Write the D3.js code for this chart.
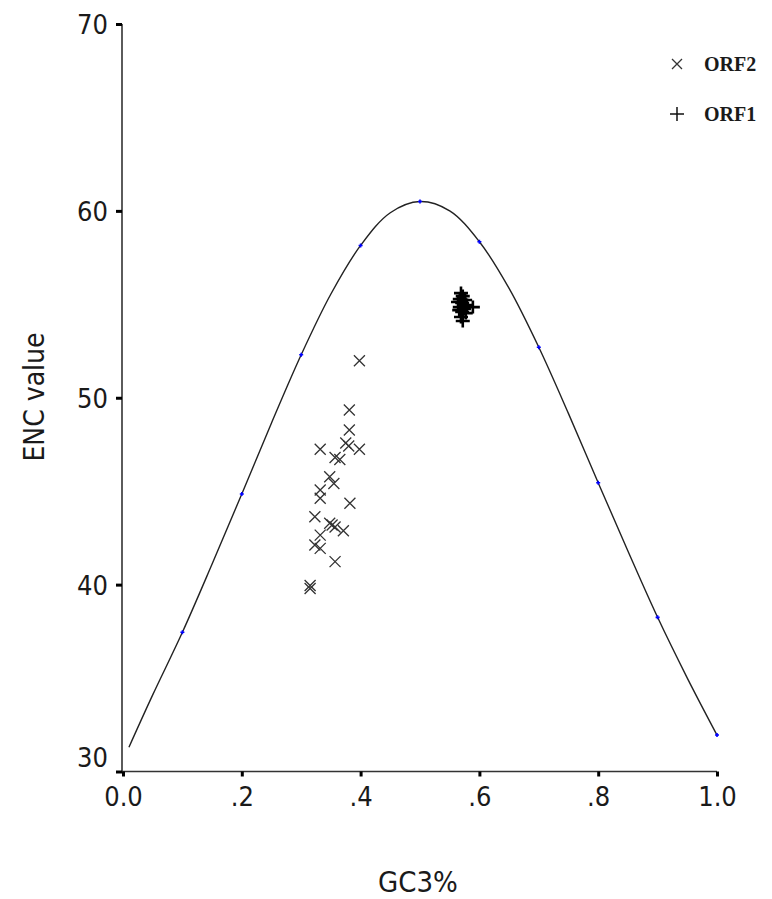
<!DOCTYPE html>
<html lang="en">
<head>
    <meta charset="UTF-8">
    <title>ENC plot</title>
    <script src="https://d3js.org/d3.v7.min.js"></script>
    <style>
        body { margin: 0; background: #fff; }
        text { font-family: "DejaVu Sans Condensed", "DejaVu Sans", sans-serif; fill: #1a1a1a; }
    </style>
</head>
<body>

<script>
    // expected ENC curve
    var curveGC3 = [0.01, 0.05, 0.10, 0.15, 0.20, 0.25, 0.30, 0.35, 0.40, 0.45, 0.50,
                    0.55, 0.60, 0.65, 0.70, 0.75, 0.80, 0.85, 0.90, 0.95, 1.00];
    var curveENC = [31.3, 34.1, 37.45, 41.1, 44.85, 48.65, 52.3, 55.55, 58.15, 59.9, 60.5,
                    60.0, 58.35, 55.85, 52.7, 49.15, 45.45, 41.8, 38.25, 35.0, 31.95];
    // blue reference dots on the curve
    var dotGC3 = [0.1, 0.2, 0.3, 0.4, 0.5, 0.6, 0.7, 0.8, 0.9, 1.0];
    var dotENC = [37.45, 44.85, 52.3, 58.15, 60.5, 58.35, 52.7, 45.45, 38.25, 31.95];

    var orf2GC3 = [0.398, 0.381, 0.381, 0.375, 0.380, 0.398, 0.332, 0.357, 0.365, 0.348,
                   0.355, 0.332, 0.332, 0.382, 0.323, 0.348, 0.352, 0.357, 0.371, 0.332,
                   0.323, 0.332, 0.357, 0.315, 0.315];
    var orf2ENC = [51.98, 49.34, 48.27, 47.58, 47.42, 47.24, 47.24, 46.80, 46.70, 45.77,
                   45.41, 45.06, 44.62, 44.35, 43.63, 43.28, 43.19, 43.08, 42.88, 42.65,
                   42.12, 41.94, 41.23, 39.95, 39.79];

    var orf1GC3 = [0.569, 0.572, 0.567, 0.576, 0.564, 0.571, 0.579, 0.589, 0.567, 0.574,
                   0.571, 0.577, 0.569, 0.572, 0.566];
    var orf1ENC = [55.60, 55.44, 55.28, 55.23, 55.12, 55.07, 54.96, 54.85, 54.85, 54.75,
                   54.59, 54.53, 54.32, 54.11, 54.69];

    var yTicks = [30, 40, 50, 60, 70];
    var xTicks = [0, 0.2, 0.4, 0.6, 0.8, 1.0];
    var xTickLabels = ["0.0", ".2", ".4", ".6", ".8", "1.0"];

    var width = 772,
        height = 899;

    var svg = d3.select("body").append("svg")
        .attr("width", width)
        .attr("height", height);

    var x = d3.scaleLinear().domain([0, 1]).range([123, 717]);
    var y = d3.scaleLinear().domain([30, 70]).range([771.5, 24]);

    // y axis
    var yAxis = svg.append("g")
        .attr("transform", "translate(122,0)")
        .call(d3.axisLeft(y).tickValues(yTicks).tickSize(6).tickPadding(8).tickFormat(d3.format("d")));
    yAxis.select(".domain")
        .attr("d", "M0,24V771.5")
        .attr("stroke", "#333").attr("stroke-width", 1.6);
    yAxis.selectAll(".tick line").attr("stroke", "#000").attr("stroke-width", 3);
    yAxis.selectAll(".tick text")
        .attr("font-size", 27)
        .attr("dy", function (d) { return d === 30 ? "-0.2em" : "0.36em"; });

    // x axis
    var xAxis = svg.append("g")
        .attr("transform", "translate(0,771.5)")
        .call(d3.axisBottom(x).tickValues(xTicks).tickSize(5).tickPadding(10)
            .tickFormat(function (d, i) { return xTickLabels[i]; }));
    xAxis.select(".domain")
        .attr("d", "M122,0H717")
        .attr("stroke", "#333").attr("stroke-width", 1.6);
    xAxis.selectAll(".tick line").attr("stroke", "#000").attr("stroke-width", 3);
    xAxis.selectAll(".tick text").attr("font-size", 27);

    // axis titles
    svg.append("text")
        .attr("transform", "translate(44,397) rotate(-90)")
        .attr("text-anchor", "middle")
        .attr("font-size", 28)
        .text("ENC value");

    svg.append("text")
        .attr("x", 418)
        .attr("y", 892)
        .attr("text-anchor", "middle")
        .attr("font-size", 29)
        .text("GC3%");

    // curve
    var curveData = curveGC3.map(function (d, i) { return [d, curveENC[i]]; });
    var line = d3.line()
        .x(function (d) { return x(d[0]); })
        .y(function (d) { return y(d[1]); })
        .curve(d3.curveCatmullRom);

    svg.append("path")
        .datum(curveData)
        .attr("fill", "none")
        .attr("stroke", "#222")
        .attr("stroke-width", 1.4)
        .attr("d", line);

    // small blue plus marks at each 0.1 step
    svg.selectAll(".dot")
        .data(dotGC3)
        .enter()
        .append("path")
        .attr("class", "dot")
        .attr("transform", function (d, i) {
            return "translate(" + x(d) + "," + y(dotENC[i]) + ")";
        })
        .attr("d", "M-2,0H2M0,-2V2")
        .attr("stroke", "#0000ff")
        .attr("stroke-width", 1.6);

    // ORF2 (x marks)
    svg.selectAll(".orf2")
        .data(orf2GC3)
        .enter()
        .append("path")
        .attr("class", "orf2")
        .attr("transform", function (d, i) {
            return "translate(" + x(d) + "," + y(orf2ENC[i]) + ")";
        })
        .attr("d", "M-5.5,-5.5L5.5,5.5M-5.5,5.5L5.5,-5.5")
        .attr("stroke", "#333")
        .attr("stroke-width", 1.3)
        .attr("fill", "none");

    // ORF1 (plus marks)
    svg.selectAll(".orf1")
        .data(orf1GC3)
        .enter()
        .append("path")
        .attr("class", "orf1")
        .attr("transform", function (d, i) {
            return "translate(" + x(d) + "," + y(orf1ENC[i]) + ")";
        })
        .attr("d", "M-7,0H7M0,-6.5V6.5")
        .attr("stroke", "#000")
        .attr("stroke-width", 2.6)
        .attr("fill", "none");

    // legend
    var legend = svg.append("g");
    legend.append("path")
        .attr("d", "M672,59L682,69M672,69L682,59")
        .attr("stroke", "#333")
        .attr("stroke-width", 1.3);
    legend.append("path")
        .attr("d", "M670,114H684M677,107V121")
        .attr("stroke", "#111")
        .attr("stroke-width", 1.5);
    legend.append("text")
        .attr("x", 704)
        .attr("y", 71)
        .style("font-family", "'Liberation Serif', serif")
        .attr("font-weight", "bold")
        .attr("font-size", 20)
        .text("ORF2");
    legend.append("text")
        .attr("x", 704)
        .attr("y", 121)
        .style("font-family", "'Liberation Serif', serif")
        .attr("font-weight", "bold")
        .attr("font-size", 20)
        .text("ORF1");
</script>

</body>
</html>
